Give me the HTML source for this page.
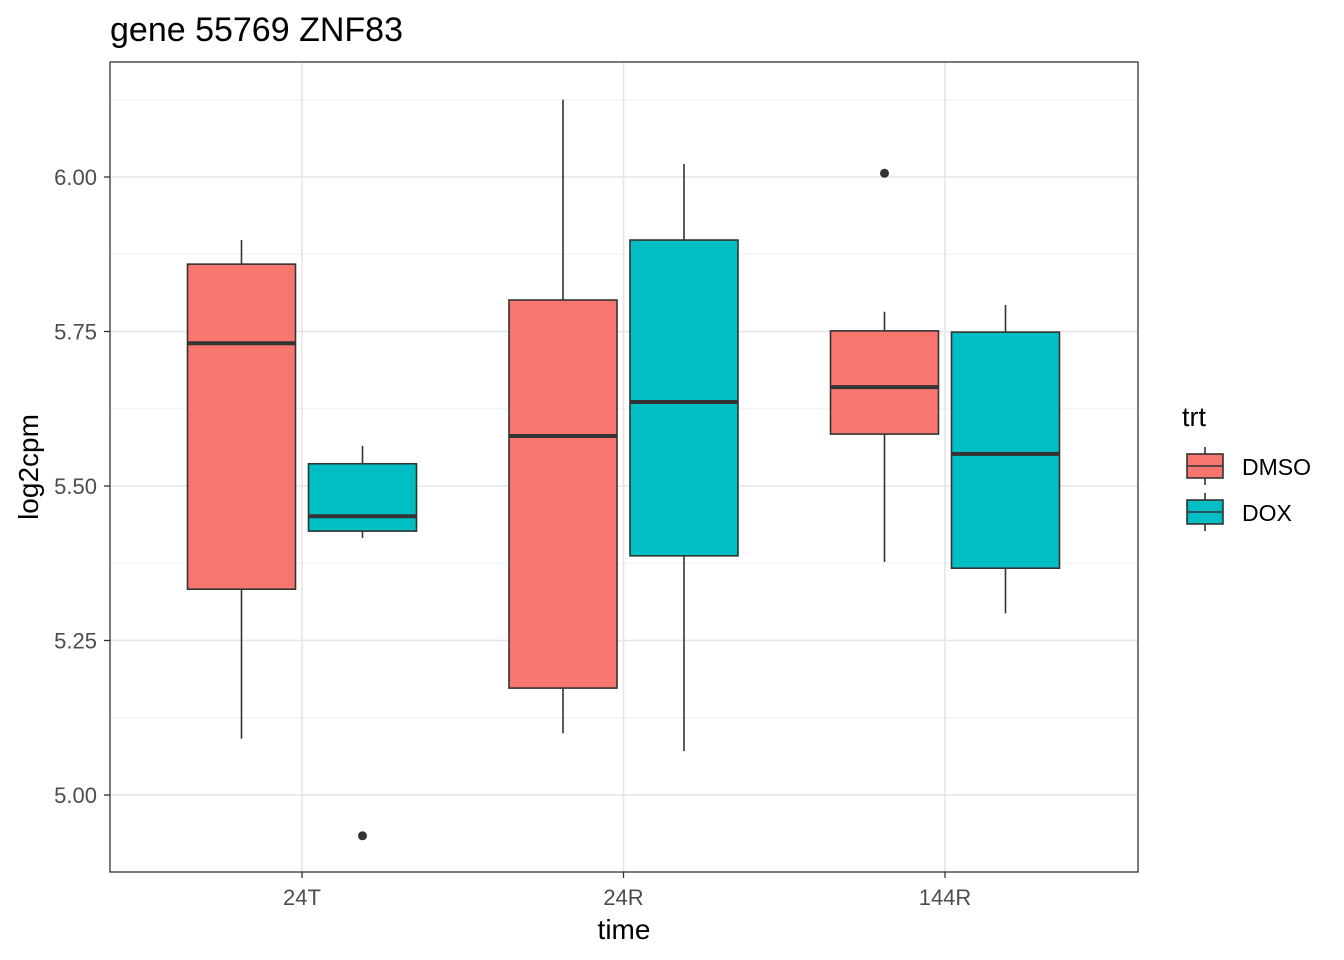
<!DOCTYPE html>
<html><head><meta charset="utf-8"><style>
body{margin:0;background:#fff;}
svg{display:block;font-family:"Liberation Sans",Arial,sans-serif;}
</style></head><body>
<svg id="chart" width="1344" height="960" viewBox="0 0 1344 960" xmlns="http://www.w3.org/2000/svg">
<text x="110" y="41" font-size="34" fill="#000">gene 55769 ZNF83</text>
<g id="grid"></g><g id="boxes"></g>
<rect x="110" y="62" width="1028" height="810" fill="none" stroke="#333" stroke-width="1.3"/>
<g id="axes"></g>
<text x="624" y="939" font-size="28" text-anchor="middle">time</text>
<text transform="translate(38,467) rotate(-90)" font-size="28" text-anchor="middle">log2cpm</text>
<g id="legend">
<text x="1182" y="426" font-size="27">trt</text>
</g>
</svg>
<script>
const categories=["24T","24R","144R"];
const groups=["DMSO","DOX"];
const colors=["#F8766D","#00BFC4"];
const dmsoStats=[[5.091,5.333,5.731,5.859,5.898],[5.100,5.173,5.581,5.801,6.125],[5.377,5.584,5.660,5.751,5.782]];
const doxStats=[[5.416,5.427,5.451,5.536,5.565],[5.071,5.387,5.636,5.898,6.021],[5.294,5.367,5.552,5.749,5.793]];
const dmsoOutliers=[[],[],[6.006]];
const doxOutliers=[[4.934],[],[]];
const yTicks=[5.00,5.25,5.50,5.75,6.00];
const yMinor=[5.125,5.375,5.625,5.875,6.125];
const NS="http://www.w3.org/2000/svg";
const y=v=>795-(v-5)*618;
const x=i=>302+i*321.5;
function mk(tag,attrs,parent){const e=document.createElementNS(NS,tag);for(const k in attrs)e.setAttribute(k,attrs[k]);parent.appendChild(e);return e;}
const grid=document.getElementById('grid'),boxes=document.getElementById('boxes'),axes=document.getElementById('axes'),legend=document.getElementById('legend');
mk('rect',{x:110,y:62,width:1028,height:810,fill:'#fff'},grid);
yMinor.forEach(v=>{const l=mk('line',{x1:110,x2:1138,y1:y(v),y2:y(v),stroke:'#f0f0f0','stroke-width':1},grid);

});
yTicks.forEach(v=>{const l=mk('line',{x1:110,x2:1138,y1:y(v),y2:y(v),stroke:'#e5e5e5','stroke-width':1.6},grid);


const t=mk('line',{x1:104,x2:110,y1:y(v),y2:y(v),stroke:'#333','stroke-width':1.3},axes);


const tx=mk('text',{x:97,y:y(v)+8,'font-size':22,fill:'#4d4d4d','text-anchor':'end'},axes);tx.textContent=v.toFixed(2);

});
categories.forEach((c,i)=>{const l=mk('line',{x1:x(i),x2:x(i),y1:62,y2:872,stroke:'#e5e5e5','stroke-width':1.6},grid);


const t=mk('line',{x1:x(i),x2:x(i),y1:872,y2:878,stroke:'#333','stroke-width':1.3},axes);


const tx=mk('text',{x:x(i),y:905,'font-size':22,fill:'#4d4d4d','text-anchor':'middle'},axes);tx.textContent=c;

});
[dmsoStats,doxStats].forEach((stats,g)=>{const outs=g?doxOutliers:dmsoOutliers;
stats.forEach((s,i)=>{const cx=x(i)+(g?60.5:-60.5),hw=54;
const gEl=mk('g',{},boxes);


mk('line',{x1:cx,x2:cx,y1:y(s[4]),y2:y(s[3]),stroke:'#333','stroke-width':1.6},gEl);
mk('line',{x1:cx,x2:cx,y1:y(s[1]),y2:y(s[0]),stroke:'#333','stroke-width':1.6},gEl);
mk('rect',{x:cx-hw,y:y(s[3]),width:2*hw,height:y(s[1])-y(s[3]),fill:colors[g],stroke:'#333','stroke-width':1.6},gEl);
mk('line',{x1:cx-hw,x2:cx+hw,y1:y(s[2]),y2:y(s[2]),stroke:'#333','stroke-width':4},gEl);
outs[i].forEach(o=>{const p=mk('circle',{cx:cx,cy:y(o),r:4.5,fill:'#333'},gEl);

});});});
groups.forEach((gname,g)=>{const cy=466+g*46;
const e=mk('g',{},legend);


mk('line',{x1:1205,x2:1205,y1:cy-19,y2:cy+19,stroke:'#333','stroke-width':1.6},e);
mk('rect',{x:1187,y:cy-12,width:36,height:24,fill:colors[g],stroke:'#333','stroke-width':1.6},e);
mk('line',{x1:1187,x2:1223,y1:cy,y2:cy,stroke:'#333','stroke-width':1.6},e);
const t=mk('text',{x:1242,y:cy+9,'font-size':23},e);t.textContent=gname;});
</script>
</body></html>
